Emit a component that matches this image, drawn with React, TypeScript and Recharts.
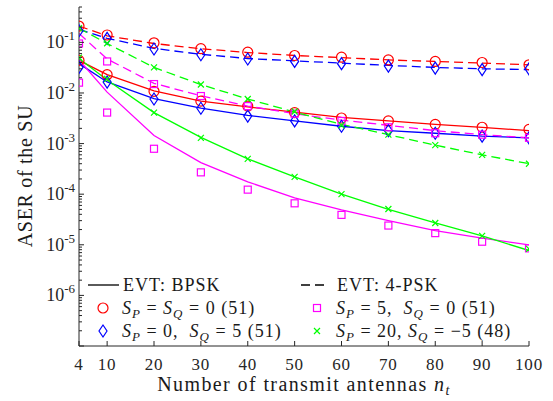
import { ComposedChart, Line, XAxis, YAxis } from 'recharts';

// number of transmit antennas
const nt = [4, 10, 20, 30, 40, 50, 60, 70, 80, 90, 100];
const xTicks = [4, 10, 20, 30, 40, 50, 60, 70, 80, 90, 100];

// EVT curves, BPSK (solid)
const evtBpskA = [0.044, 0.023, 0.011, 0.0069, 0.0053, 0.0042, 0.0033, 0.0028, 0.0024, 0.0021, 0.0018]; // SP=SQ=0
const evtBpskB = [0.038, 0.0165, 0.0077, 0.005, 0.0036, 0.0028, 0.0022, 0.0018, 0.0016, 0.0014, 0.0013]; // SP=0, SQ=5
const evtBpskC = [0.045, 0.0104, 0.00144, 0.00042, 0.000175, 8.5e-5, 4.9e-5, 3.0e-5, 1.9e-5, 1.35e-5, 1.0e-5]; // SP=5, SQ=0
const evtBpskD = [0.048, 0.018, 0.0041, 0.00133, 0.0005, 0.00022, 0.0001, 5.0e-5, 2.7e-5, 1.5e-5, 7.7e-6]; // SP=20, SQ=-5

// EVT curves, 4-PSK (dashed)
const evtQpskA = [0.21, 0.135, 0.095, 0.075, 0.063, 0.055, 0.05, 0.045, 0.042, 0.039, 0.036];
const evtQpskB = [0.18, 0.12, 0.076, 0.058, 0.048, 0.043, 0.039, 0.035, 0.032, 0.03, 0.029];
const evtQpskC = [0.15, 0.047, 0.0155, 0.0088, 0.0055, 0.0039, 0.0029, 0.0023, 0.0018, 0.0015, 0.0013];
const evtQpskD = [0.19, 0.095, 0.032, 0.0147, 0.0076, 0.0042, 0.0024, 0.0015, 0.00093, 0.0006, 0.0004];

// simulation points
const simBpskA = [0.044, 0.023, 0.0108, 0.0069, 0.0055, 0.0041, 0.0032, 0.0028, 0.0024, 0.0021, 0.0019];
const simQpskA = [0.21, 0.14, 0.098, 0.075, 0.064, 0.055, 0.051, 0.045, 0.042, 0.04, 0.036];
const simBpskB = [0.032, 0.0164, 0.0076, 0.005, 0.0035, 0.0028, 0.0022, 0.0018, 0.0016, 0.0014, 0.0013];
const simQpskB = [0.17, 0.12, 0.074, 0.057, 0.047, 0.042, 0.038, 0.034, 0.031, 0.029, 0.03];
const simBpskC = [0.016, 0.0041, 0.00079, 0.00027, 0.000123, 6.6e-5, 3.9e-5, 2.4e-5, 1.7e-5, 1.15e-5, 8.5e-6];
const simQpskC = [0.095, 0.042, 0.015, 0.0087, 0.0055, 0.0039, 0.0028, 0.0021, 0.0016, 0.0015, 0.0013];
const simBpskD = [0.05, 0.019, 0.0041, 0.0013, 0.0005, 0.00022, 0.0001, 5.1e-5, 2.7e-5, 1.5e-5, 8.3e-6];
const simQpskD = [0.19, 0.096, 0.032, 0.0147, 0.0076, 0.0043, 0.0023, 0.0015, 0.00093, 0.0006, 0.0004];

const data = nt.map((n, i) => ({
  nt: n,
  eBA: evtBpskA[i], eBB: evtBpskB[i], eBC: evtBpskC[i], eBD: evtBpskD[i],
  eQA: evtQpskA[i], eQB: evtQpskB[i], eQC: evtQpskC[i], eQD: evtQpskD[i],
  sBA: simBpskA[i], sQA: simQpskA[i], sBB: simBpskB[i], sQB: simQpskB[i],
  sBC: simBpskC[i], sQC: simQpskC[i], sBD: simBpskD[i], sQD: simQpskD[i],
}));

// log ticks: majors at decades, minors at 2..9
const yTicks: number[] = [];
for (let k = -7; k <= -1; k++) {
  for (let m = 1; m <= 9; m++) {
    const v = m * Math.pow(10, k);
    if (v <= 0.5) yTicks.push(v);
  }
}

const RED = '#ff0000';
const BLUE = '#0000ff';
const MAG = '#ff00ff';
const GRN = '#00ff00';
const AXIS = '#262626';
const FONT = "'Liberation Serif', 'Times New Roman', serif";

const isMajor = (v: number) => Math.abs(Math.log10(v) - Math.round(Math.log10(v))) < 1e-6;

const LeftTick = ({ x, y, payload }: any) => {
  const v = payload.value;
  const exp = Math.round(Math.log10(v));
  const major = isMajor(v);
  return (
    <g>
      <line x1={x} x2={x + (major ? 5 : 3)} y1={y} y2={y} stroke={AXIS} />
      {major && exp > -7 && (
        <text x={x - 4} y={y + 6} textAnchor="end" style={{ fontFamily: FONT }} fontSize={18} fill={AXIS}>
          10<tspan dy={-8} fontSize={13}>{`-${-exp}`}</tspan>
        </text>
      )}
    </g>
  );
};

const RightTick = ({ x, y, payload }: any) => (
  <line x1={x} x2={x - (isMajor(payload.value) ? 5 : 3)} y1={y} y2={y} stroke={AXIS} />
);

const BottomTick = ({ x, y, payload }: any) => (
  <g>
    <line x1={x} x2={x} y1={y} y2={y - 5} stroke={AXIS} />
    <text x={x} y={y + 24} textAnchor="middle" style={{ fontFamily: FONT }} fontSize={17} fill={AXIS} letterSpacing={0.8}>
      {payload.value}
    </text>
  </g>
);

const TopTick = ({ x, y }: any) => <line x1={x} x2={x} y1={y} y2={y + 5} stroke={AXIS} />;

const circle = (c: string, cx: number, cy: number, key?: string) => (
  <circle key={key} cx={cx} cy={cy} r={5} fill="none" stroke={c} strokeWidth={1.2} />
);
const diamond = (c: string, cx: number, cy: number, key?: string) => (
  <path key={key} d={`M${cx},${cy - 6}L${cx + 4},${cy}L${cx},${cy + 6}L${cx - 4},${cy}Z`} fill="none" stroke={c} strokeWidth={1.2} />
);
const square = (c: string, cx: number, cy: number, key?: string) => (
  <rect key={key} x={cx - 3.5} y={cy - 3.5} width={7} height={7} fill="none" stroke={c} strokeWidth={1.2} />
);
const cross = (c: string, cx: number, cy: number, key?: string) => (
  <path key={key} d={`M${cx - 3},${cy - 3}L${cx + 3},${cy + 3}M${cx - 3},${cy + 3}L${cx + 3},${cy - 3}`} stroke={c} strokeWidth={1.2} />
);

const mk = (fn: any, c: string) => (p: any) => {
  const key = `${p.dataKey}-${p.index}`;
  if (p.cx == null || p.cy == null) return <g key={key} />;
  return fn(c, p.cx, p.cy, key);
};

const evtLines = [
  { key: 'eBA', color: RED, dash: undefined },
  { key: 'eBB', color: BLUE, dash: undefined },
  { key: 'eBC', color: MAG, dash: undefined },
  { key: 'eBD', color: GRN, dash: undefined },
  { key: 'eQA', color: RED, dash: '9 5' },
  { key: 'eQB', color: BLUE, dash: '9 5' },
  { key: 'eQC', color: MAG, dash: '9 5' },
  { key: 'eQD', color: GRN, dash: '9 5' },
];

const simPoints = [
  { key: 'sBA', shape: circle, color: RED },
  { key: 'sQA', shape: circle, color: RED },
  { key: 'sBB', shape: diamond, color: BLUE },
  { key: 'sQB', shape: diamond, color: BLUE },
  { key: 'sBC', shape: square, color: MAG },
  { key: 'sQC', shape: square, color: MAG },
  { key: 'sBD', shape: cross, color: GRN },
  { key: 'sQD', shape: cross, color: GRN },
];

const txt = { style: { fontFamily: FONT, whiteSpace: 'pre' }, fontSize: 18, fill: '#1a1a1a', letterSpacing: 1 } as any;

const Sub = ({ s }: { s: string }) => (
  <>
    <tspan fontStyle="italic">S</tspan>
    <tspan fontStyle="italic" fontSize={13} dy={4}>{s}</tspan>
  </>
);

export default function App() {
  return (
    <div style={{ position: 'absolute', left: 0, top: 0, width: 553, height: 401, background: '#fff' }}>
      <ComposedChart width={553} height={401} data={data} margin={{ top: 7, right: 24, bottom: 15, left: 9 }}>
        <XAxis xAxisId="b" dataKey="nt" type="number" domain={[4, 100]} ticks={xTicks} interval={0}
          height={40} tickSize={0} tickMargin={0} tick={<BottomTick />} tickLine={false}
          axisLine={{ stroke: AXIS }} allowDataOverflow />
        <XAxis xAxisId="t" orientation="top" dataKey="nt" type="number" domain={[4, 100]} ticks={xTicks} interval={0}
          height={0} tickSize={0} tickMargin={0} tick={<TopTick />} tickLine={false}
          axisLine={{ stroke: AXIS }} allowDataOverflow />
        <YAxis yAxisId="l" type="number" scale="log" domain={[1e-7, 0.5]} ticks={yTicks} interval={0}
          width={70} tickSize={0} tickMargin={0} tick={<LeftTick />} tickLine={false}
          axisLine={{ stroke: AXIS }} allowDataOverflow />
        <YAxis yAxisId="r" orientation="right" type="number" scale="log" domain={[1e-7, 0.5]} ticks={yTicks} interval={0}
          width={0} tickSize={0} tickMargin={0} tick={<RightTick />} tickLine={false}
          axisLine={{ stroke: AXIS }} allowDataOverflow />
        {evtLines.map((l) => (
          <Line key={l.key} xAxisId="b" yAxisId="l" dataKey={l.key} type="linear" stroke={l.color}
            strokeWidth={1.3} strokeDasharray={l.dash} dot={false} activeDot={false} isAnimationActive={false} />
        ))}
        {simPoints.map((s) => (
          <Line key={s.key} xAxisId="b" yAxisId="l" dataKey={s.key} type="linear" stroke="none"
            dot={mk(s.shape, s.color)} activeDot={false} isAnimationActive={false} />
        ))}
      </ComposedChart>
      <svg width={553} height={401} style={{ position: 'absolute', left: 0, top: 0, pointerEvents: 'none' }}>
        <text x={304} y={391} textAnchor="middle" style={{ fontFamily: FONT }} fontSize={20} fill="#1a1a1a" letterSpacing={1.4}>
          Number of transmit antennas <tspan fontStyle="italic">n</tspan>
          <tspan fontStyle="italic" fontSize={14} dy={4}>t</tspan>
        </text>
        <text transform="translate(32,176) rotate(-90)" textAnchor="middle" style={{ fontFamily: FONT }} fontSize={20}
          fill="#1a1a1a" letterSpacing={0.7}>
          ASER of the SU
        </text>

        {/* legend */}
        <line x1={88} x2={119} y1={285} y2={285} stroke="#000" strokeWidth={1.3} />
        <text x={123} y={291} {...txt}>EVT: BPSK</text>
        <line x1={301} x2={328} y1={285} y2={285} stroke="#000" strokeWidth={1.3} strokeDasharray="9 5" />
        <text x={337} y={291} {...txt}>EVT: 4-PSK</text>

        {circle(RED, 103, 308)}
        <text x={122} y={314} {...txt}>
          <Sub s="P" /><tspan dy={-4}> = </tspan><Sub s="Q" /><tspan dy={-4}> = 0 (51)</tspan>
        </text>
        {diamond(BLUE, 103, 331)}
        <text x={122} y={337} {...txt}>
          <Sub s="P" /><tspan dy={-4}> = 0,  </tspan><Sub s="Q" /><tspan dy={-4}> = 5 (51)</tspan>
        </text>
        {square(MAG, 317, 308)}
        <text x={336} y={314} {...txt}>
          <Sub s="P" /><tspan dy={-4}> = 5,  </tspan><Sub s="Q" /><tspan dy={-4}> = 0 (51)</tspan>
        </text>
        {cross(GRN, 317, 331)}
        <text x={336} y={337} {...txt}>
          <Sub s="P" /><tspan dy={-4}> = 20, </tspan><Sub s="Q" /><tspan dy={-4}> = −5 (48)</tspan>
        </text>
      </svg>
    </div>
  );
}
